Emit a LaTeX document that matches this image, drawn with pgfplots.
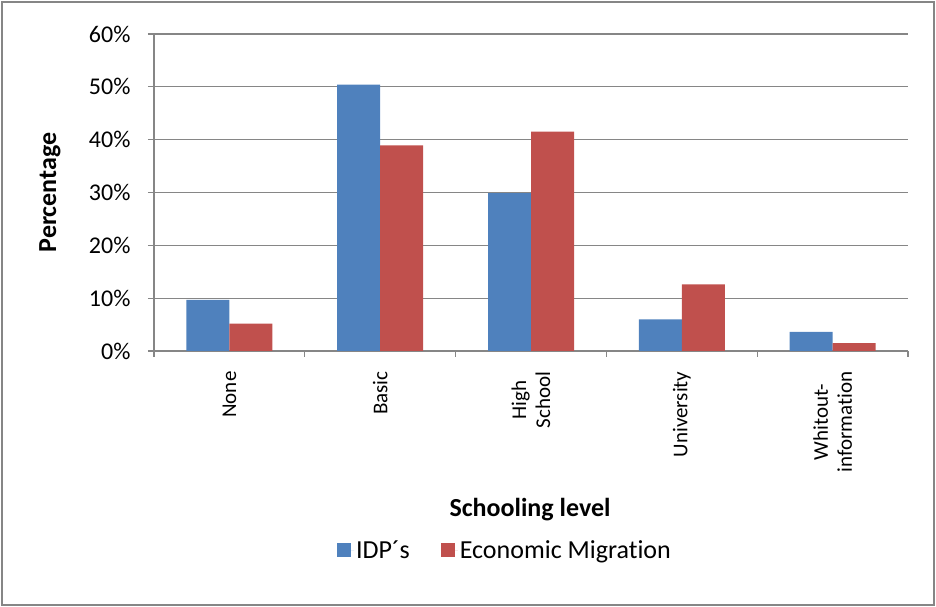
\documentclass[border=0pt]{standalone}
\usepackage{pgfplots}
\pgfplotsset{compat=1.18}
\usepackage{fontspec}
\setmainfont{Carlito}[Ligatures={NoCommon,NoRare,NoContextual}]
\newcommand{\ti}{t\kern0pt i}
\definecolor{idp}{HTML}{4F81BD}
\definecolor{eco}{HTML}{C0504D}
\definecolor{gridc}{HTML}{868686}
\begin{document}
\begin{tikzpicture}[x=1pt,y=1pt]
\path (0,0) rectangle (936,607);
\draw[gridc, line width=2pt] (1.5,1.5) rectangle (933.5,605);
\begin{axis}[
  at={(154pt,256pt)}, anchor=south west,
  scale only axis, width=754pt, height=317pt,
  ymin=0, ymax=60, xmin=-0.5, xmax=4.5,
  ybar=0pt, bar width=43pt,
  axis x line*=bottom, axis y line*=left,
  axis line style={-, gridc, line width=1.2pt},
  ymajorgrids, grid style={gridc, line width=1.2pt},
  tick align=outside, major tick length=6pt,
  tick style={gridc, line width=1.2pt},
  ytick={0,10,...,60},
  yticklabel={\pgfmathprintnumber{\tick}\%},
  /pgf/number format/assume math mode=true,
  yticklabel style={font=\fontsize{24}{28}\selectfont, xshift=-14pt},
  xtick={-0.5,0.5,...,4.5},
  x tick label as interval,
  xticklabels={None,Basic,{High\\School},University,{Whitout-\\informa\ti on}},
  xticklabel style={rotate=90, anchor=east, align=center, font=\fontsize{21}{24}\selectfont, xshift=-11pt},
  xlabel={Schooling level},
  xlabel style={at={(axis description cs:0.4987,-0.5016)}, anchor=center, font=\bfseries\fontsize{26}{30}\selectfont},
  ylabel={Percentage},
  ylabel style={at={(axis description cs:-0.138,0.5)}, anchor=center, font=\bfseries\fontsize{26}{30}\selectfont},
  legend style={at={(axis description cs:0.4655,-0.628)}, anchor=center, draw=none,
    font=\fontsize{26}{30}\selectfont, legend columns=2,
    /tikz/every even column/.append style={column sep=29pt}},
]
\addplot[fill=idp, draw=none, legend image code/.code={\fill[idp] (0pt,-7pt) rectangle (14pt,7pt); \path (0pt,0pt) -- (17pt,0pt);}]
  coordinates {(0,9.7) (1,50.4) (2,29.9) (3,6.0) (4,3.6)};
\addplot[fill=eco, draw=none, legend image code/.code={\fill[eco] (0pt,-7pt) rectangle (14pt,7pt); \path (0pt,0pt) -- (17pt,0pt);}]
  coordinates {(0,5.2) (1,38.9) (2,41.5) (3,12.6) (4,1.5)};
\legend{IDP´s, Economic Migra\ti on}
\end{axis}
\end{tikzpicture}
\end{document}
